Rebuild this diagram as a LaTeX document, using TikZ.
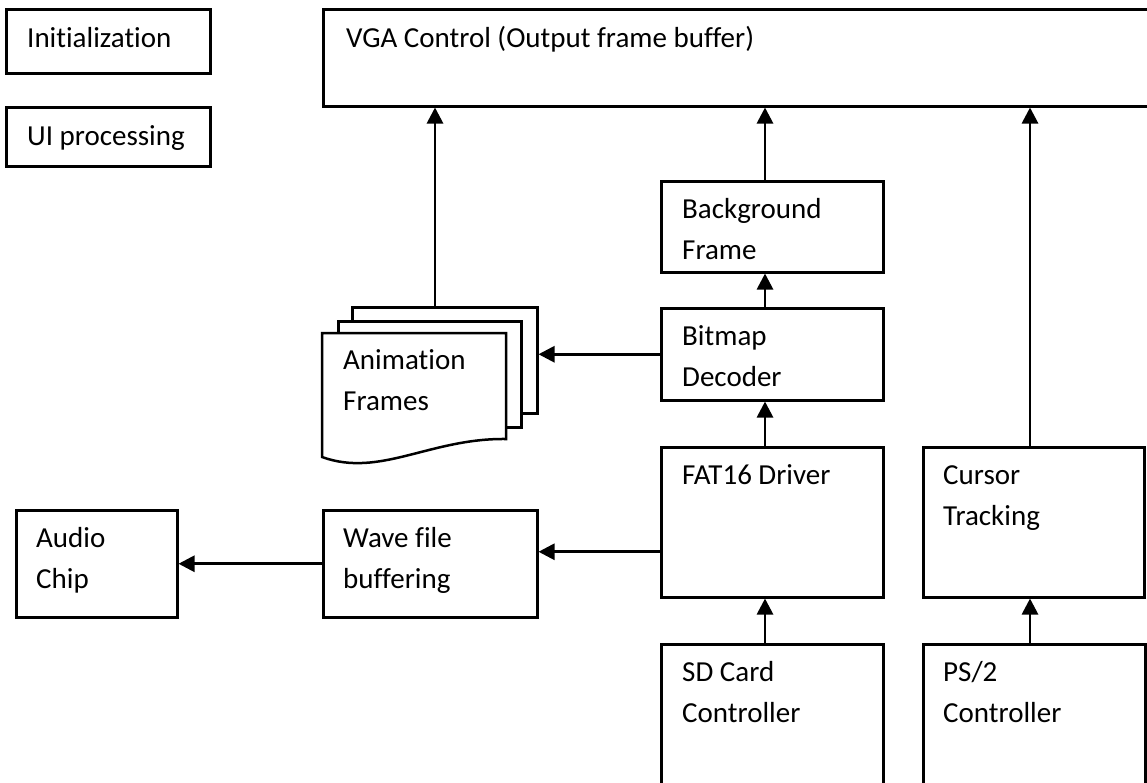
\documentclass[tikz,border=0pt]{standalone}
\usepackage{fontspec}
\setmainfont{Carlito}[Ligatures=NoCommon]
\usetikzlibrary{arrows.meta,positioning}

\begin{document}
\begin{tikzpicture}[x=1pt,y=-1pt,
    blk/.style={draw,line width=2.5pt,anchor=north west,inner sep=0pt},
    sheet/.style={blk,fill=white},
    txt/.style={anchor=base west,align=left,inner sep=0pt,font=\fontsize{29}{41}\selectfont},
    arr/.style={line width=2.8pt,-{Triangle[length=16pt,width=16pt]}}]
    % Page frame
    \useasboundingbox (0,0) rectangle (1147,782);
    \clip (0,0) rectangle (1147,782);

    % Side boxes
    \node[blk,minimum width=204,minimum height=64] (init) at (5,8) {};
    \node[blk,minimum width=204,minimum height=59] (ui) at (5,106) {};
    \node[txt] (initT) at ([shift={(22,39)}]init.north west) {Initialization};
    \node[txt] (uiT) at ([shift={(22,39)}]ui.north west) {UI processing};

    % Output
    \node[blk,minimum width=840,minimum height=97] (vga) at (322,8) {};
    \node[txt] (vgaT) at ([shift={(24,39)}]vga.north west) {VGA Control (Output frame buffer)};

    % Video path (base = last line, so two-line labels sit one line lower)
    \node[blk,minimum width=222,minimum height=91] (bg) at (660,180) {};
    \node[blk,minimum width=222,minimum height=92] (bmp) at (660,307) {};
    \node[blk,minimum width=222,minimum height=150] (fat) at (660,446) {};
    \node[blk,minimum width=222,minimum height=160] (sd) at (660,643) {};
    \node[txt] (bgT) at ([shift={(22,79)}]bg.north west) {Background\\Frame};
    \node[txt] (bmpT) at ([shift={(22,79)}]bmp.north west) {Bitmap\\Decoder};
    \node[txt] (fatT) at ([shift={(22,38)}]fat.north west) {FAT16 Driver};
    \node[txt] (sdT) at ([shift={(22,79)}]sd.north west) {SD Card\\Controller};

    % Cursor path
    \node[blk,minimum width=221,minimum height=150] (cur) at (922,446) {};
    \node[blk,minimum width=222,minimum height=160] (ps2) at (922,643) {};
    \node[txt] (curT) at ([shift={(21,79)}]cur.north west) {Cursor\\Tracking};
    \node[txt] (ps2T) at ([shift={(21,79)}]ps2.north west) {PS/2\\Controller};

    % Audio path
    \node[blk,minimum width=214,minimum height=107] (wave) at (322,509) {};
    \node[blk,minimum width=161,minimum height=107] (audio) at (15,509) {};
    \node[txt] (waveT) at ([shift={(21,79)}]wave.north west) {Wave file\\buffering};
    \node[txt] (audioT) at ([shift={(21,79)}]audio.north west) {Audio\\Chip};

    % Animation frames (stacked sheets)
    \node[sheet,minimum width=185,minimum height=106] (frmback) at (351,306) {};
    \node[sheet,minimum width=183,minimum height=106] (frmmid) at (337,320) {};
    \draw[line width=2.5pt,fill=white] (322,333) -- (506,333) -- (506,439)
        .. controls (430,438) and (380,478) .. (322,457) -- cycle;
    \node[txt] (frmT) at (343,410) {Animation\\Frames};

    % Arrow columns
    \coordinate (colA) at (765,0);
    \coordinate (colB) at (1030,0);
    \coordinate (colC) at (435,0);
    \coordinate (wavein) at ([yshift=12pt]wave.east);

    % Connectors
    \draw[arr] (frmback.north -| colC) -- (vga.south -| colC);
    \draw[arr] (bg.north -| colA) -- (vga.south -| colA);
    \draw[arr] (cur.north -| colB) -- (vga.south -| colB);
    \draw[arr] (bmp.north -| colA) -- (bg.south -| colA);
    \draw[arr] (fat.north -| colA) -- (bmp.south -| colA);
    \draw[arr] (sd.north -| colA) -- (fat.south -| colA);
    \draw[arr] (ps2.north -| colB) -- (cur.south -| colB);
    \draw[arr] (bmp.west) -- (bmp.west -| frmback.east);
    \draw[arr] (wavein -| fat.west) -- (wavein);
    \draw[arr] (wave.west) -- (wave.west -| audio.east);
\end{tikzpicture}
\end{document}
